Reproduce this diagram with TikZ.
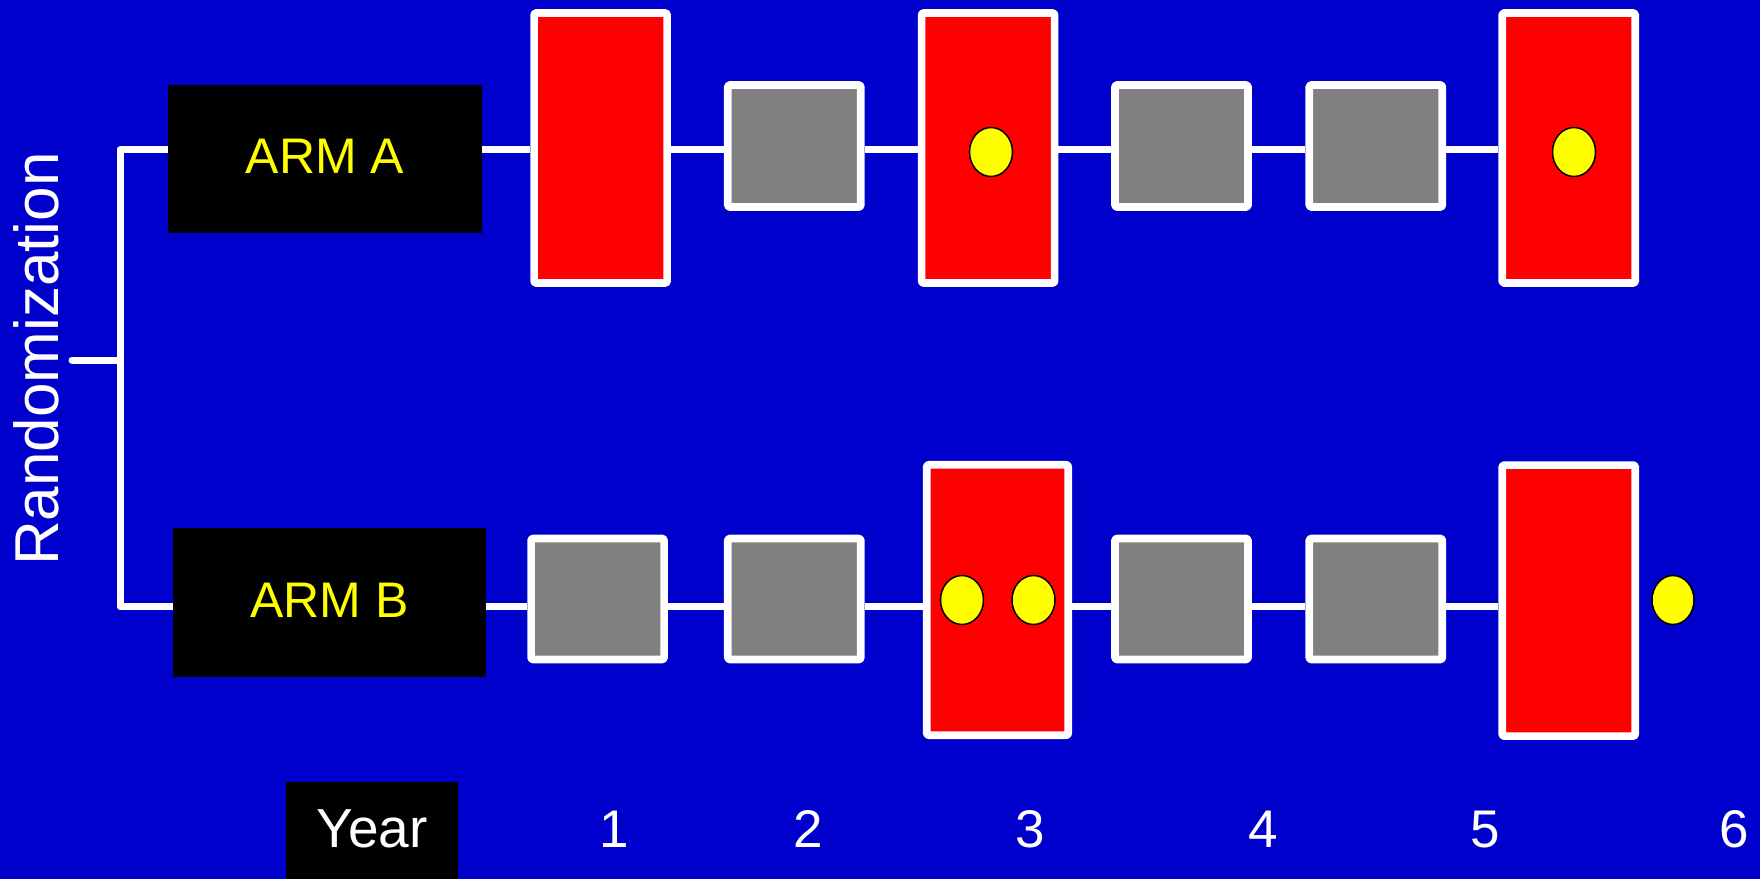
\documentclass[tikz,border=0pt]{standalone}
\usepackage{fontspec}
\setmainfont{Liberation Sans}
\usetikzlibrary{shapes.geometric}
\definecolor{bg}{RGB}{0,0,204}
\definecolor{rd}{RGB}{255,0,0}
\definecolor{gy}{RGB}{128,128,128}
\definecolor{yl}{RGB}{255,255,0}
\pgfdeclarelayer{back}
\pgfsetlayers{back,main}
\begin{document}
\begin{tikzpicture}[x=1pt,y=-1pt,
  redbox/.style={draw=white, line width=7.7pt, fill=rd, line join=round, rounded corners=1.5pt,
    minimum width=133pt, minimum height=270pt, inner sep=0pt},
  graybox/.style={draw=white, line width=7.7pt, fill=gy, line join=round, rounded corners=1.5pt,
    minimum width=133pt, minimum height=122pt, inner sep=0pt},
  armbox/.style={fill=black, text=yl, font=\fontsize{50}{60}\selectfont,
    minimum width=314pt, minimum height=148.5pt, inner sep=0pt, text height=36pt, text depth=8pt},
  dot/.style={ellipse, draw=black, line width=1.5pt, fill=yl,
    minimum width=43pt, minimum height=49pt, inner sep=0pt},
  conn/.style={draw=white, line width=7pt},
  yearnum/.style={text=white, font=\fontsize{53}{60}\selectfont, anchor=base, inner sep=0pt}
]
\useasboundingbox (0,0) rectangle (1760,879);
\begin{pgfonlayer}{back}
\fill[bg] (0,0) rectangle (1760,879);
\end{pgfonlayer}

% rows
\coordinate (ya) at (0,149.7);
\coordinate (yb) at (0,606.5);

% left label
\node[rotate=90, text=white, font=\fontsize{62}{70}\selectfont, inner sep=0pt] (rand) at (36.5,359) {Randomization};

% arms
\node[armbox] (armA) at (325,159) {ARM A};
\node[armbox, minimum width=313pt, minimum height=149pt, text depth=7pt] (armB) at (329.5,602.5) {ARM B};

% top row
\node[redbox] (r1) at (600.6,148) {};
\node[graybox] (g1) at (794.3,146) {};
\node[redbox] (r2) at (988.1,148) {};
\node[graybox] (g2) at (1181.5,146) {};
\node[graybox] (g3) at (1375.8,146) {};
\node[redbox] (r3) at (1568.7,148) {};
\node[dot] (a1) at (991,152) {};
\node[dot] (a2) at (1574,152) {};

% bottom row
\node[graybox, minimum height=121pt] (h1) at (597.6,599) {};
\node[graybox, minimum height=121pt] (h2) at (794.3,599) {};
\node[redbox, minimum width=141.5pt, minimum height=270.5pt] (s1) at (997.5,600) {};
\node[graybox, minimum height=121pt] (h3) at (1181.5,599) {};
\node[graybox, minimum height=121pt] (h4) at (1375.8,599) {};
\node[redbox, minimum height=271pt] (s2) at (1568.7,600.6) {};
\node[dot] (b1) at (962,600) {};
\node[dot] (b2) at (1033.5,600) {};
\node[dot, minimum width=42pt] (b3) at (1673,600) {};

% year axis
\node[fill=black, minimum width=172pt, minimum height=97pt, inner sep=0pt, text=white,
  font=\fontsize{55}{60}\selectfont, text height=39pt, text depth=6pt] (year) at (372,830.5) {Year};
\node[yearnum] (n1) at (614,847) {1};
\node[yearnum] (n2) at (808,847) {2};
\node[yearnum] (n3) at (1030,847) {3};
\node[yearnum] (n4) at (1263.7,847) {4};
\node[yearnum] (n5) at (1485.6,847) {5};
\node[yearnum] (n6) at (1734.6,847) {6};

% bracket coordinates
\coordinate (ta) at (120.5,149.7);
\coordinate (tb) at (120.5,606.5);
\coordinate (mid) at (120.5,360);
\coordinate (stub) at (72,360);

\begin{pgfonlayer}{back}
\draw[conn, line cap=round] (armA.west |- ya) -- (ta);
\draw[conn, line cap=round] (ta) -- (tb);
\draw[conn, line cap=round] (tb) -- (armB.west |- yb);
\draw[conn, line cap=round] (stub) -- (mid);
\draw[conn] (armA.east |- ya) -- (r1.west |- ya);
\draw[conn] (r1.east |- ya) -- (g1.west |- ya);
\draw[conn] (g1.east |- ya) -- (r2.west |- ya);
\draw[conn] (r2.east |- ya) -- (g2.west |- ya);
\draw[conn] (g2.east |- ya) -- (g3.west |- ya);
\draw[conn] (g3.east |- ya) -- (r3.west |- ya);
\draw[conn] (armB.east |- yb) -- (h1.west |- yb);
\draw[conn] (h1.east |- yb) -- (h2.west |- yb);
\draw[conn] (h2.east |- yb) -- (s1.west |- yb);
\draw[conn] (s1.east |- yb) -- (h3.west |- yb);
\draw[conn] (h3.east |- yb) -- (h4.west |- yb);
\draw[conn] (h4.east |- yb) -- (s2.west |- yb);
\end{pgfonlayer}
\end{tikzpicture}
\end{document}
